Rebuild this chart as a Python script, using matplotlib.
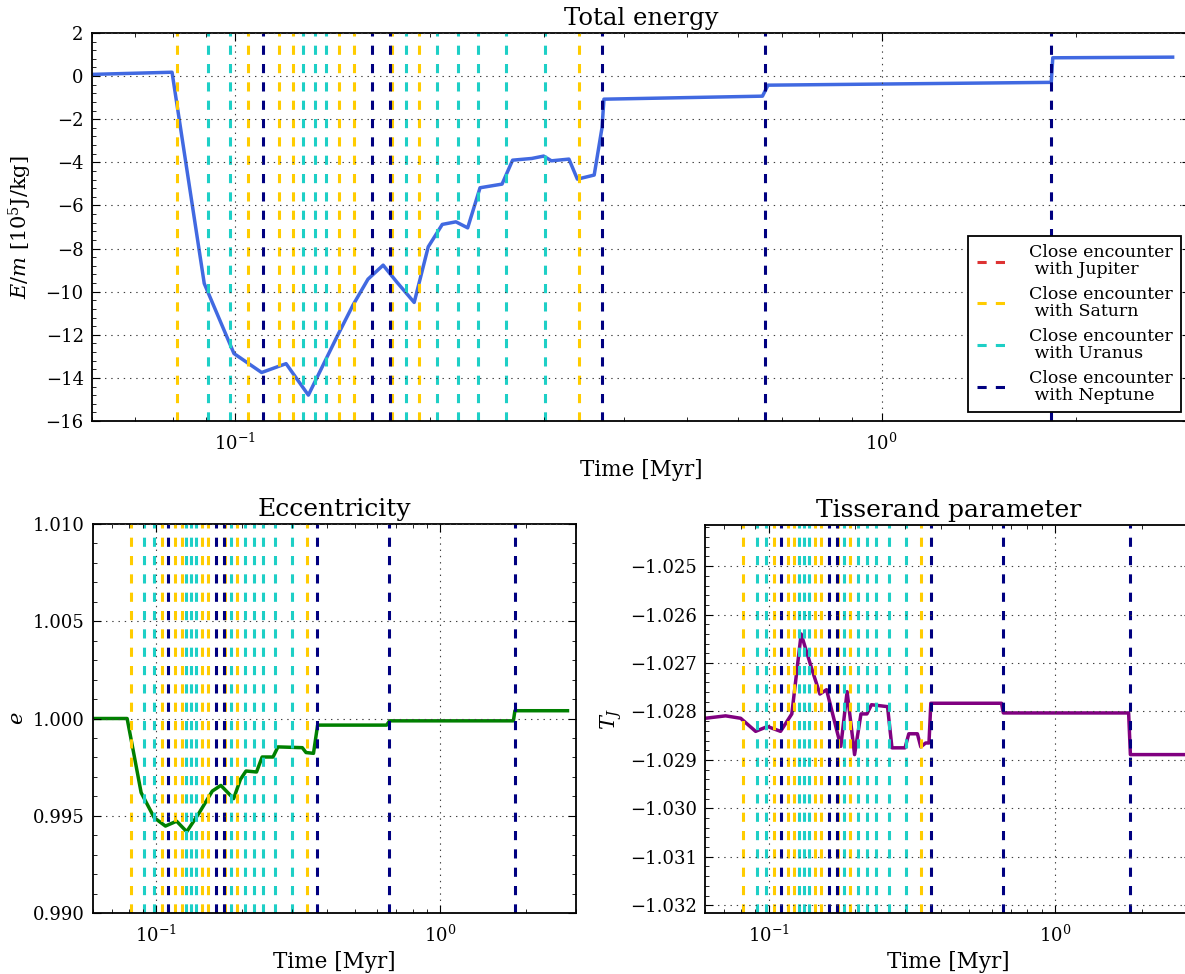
import matplotlib
matplotlib.use('Agg')
import matplotlib.pyplot as plt
from matplotlib.lines import Line2D
from matplotlib.ticker import MultipleLocator, AutoMinorLocator, LogLocator

# ---------------- data ----------------
energy_time = [0.0600, 0.0798, 0.0895, 0.0995, 0.1098, 0.1198, 0.1297, 0.1440, 0.1520,
               0.1604, 0.1693, 0.1777, 0.1891, 0.1988, 0.2090, 0.2194, 0.2288, 0.2391,
               0.2586, 0.2685, 0.2875, 0.2999, 0.3083, 0.3282, 0.3382, 0.3591, 0.3692,
               0.3718, 0.6540, 0.6670, 1.8300, 1.8400, 2.8200]
energy = [0.08, 0.18, -9.62, -12.87, -13.75, -13.34, -14.80, -12.02, -10.63,
          -9.42, -8.77, -9.55, -10.50, -7.92, -6.88, -6.76, -7.04, -5.18,
          -5.01, -3.90, -3.82, -3.71, -3.93, -3.85, -4.78, -4.59, -2.40,
          -1.07, -0.93, -0.42, -0.29, 0.85, 0.88]

ecc_time = [0.0600, 0.0791, 0.0821, 0.0886, 0.0985, 0.1079, 0.1181, 0.1282, 0.1418,
            0.1577, 0.1690, 0.1874, 0.1980, 0.2072, 0.2256, 0.2361, 0.2579, 0.2683,
            0.3268, 0.3369, 0.3579, 0.3700, 0.6470, 0.6630, 1.8070, 1.8290, 2.8000]
ecc = [1.00000, 1.00000, 0.99876, 0.99619, 0.99490, 0.99447, 0.99472, 0.99418, 0.99515,
       0.99627, 0.99656, 0.99588, 0.99687, 0.99730, 0.99725, 0.99802, 0.99802, 0.99854,
       0.99850, 0.99825, 0.99821, 0.99966, 0.99966, 0.99988, 0.99988, 1.00040, 1.00040]

tiss_time = [0.0601, 0.0708, 0.0799, 0.0901, 0.0991, 0.1101, 0.1205, 0.1299, 0.1413,
             0.1510, 0.1593, 0.1786, 0.1879, 0.1995, 0.2100, 0.2203, 0.2285, 0.2600,
             0.2694, 0.2993, 0.3084, 0.3304, 0.3396, 0.3531, 0.3627, 0.3681, 0.6495,
             0.6590, 1.8030, 1.8290, 2.8000]
tiss = [-1.02814, -1.02809, -1.02814, -1.02841, -1.02831, -1.02841, -1.02805, -1.02640,
        -1.02711, -1.02764, -1.02755, -1.02872, -1.02759, -1.02889, -1.02805, -1.02805,
        -1.02786, -1.02790, -1.02875, -1.02875, -1.02846, -1.02846, -1.02873, -1.02865,
        -1.02865, -1.02783, -1.02783, -1.02803, -1.02803, -1.02889, -1.02889]

jupiter_enc = []
saturn_enc = [0.0813, 0.1045, 0.1167, 0.1230, 0.1447, 0.1528, 0.1745, 0.1927, 0.3398]
uranus_enc = [0.0908, 0.0980, 0.1273, 0.1326, 0.1383, 0.1835, 0.2050, 0.2213, 0.2376,
              0.2625, 0.3017]
neptune_enc = [0.1105, 0.1628, 0.1736, 0.3692, 0.6590, 1.8300]

planets = ['Jupiter', 'Saturn', 'Uranus', 'Neptune']
planet_colors = ['#dd3333', '#ffcc00', '#1ecfc6', '#000080']
encounters = [jupiter_enc, saturn_enc, uranus_enc, neptune_enc]

# ---------------- style ----------------
plt.rcParams.update({
    'font.family': 'DejaVu Serif',
    'mathtext.fontset': 'dejavuserif',
    'axes.unicode_minus': True,
    'lines.scale_dashes': False,
    'xtick.direction': 'in', 'ytick.direction': 'in',
    'xtick.top': True, 'ytick.right': True,
    'xtick.major.size': 6, 'ytick.major.size': 6,
    'xtick.minor.size': 3, 'ytick.minor.size': 3,
    'xtick.major.pad': 8, 'ytick.major.pad': 6,
    'axes.linewidth': 1.3,
    'axes.axisbelow': False,
})

DASH = (6.6, 6.6)

fig = plt.figure(figsize=(11.85, 9.74), dpi=100)
W, H = 1185.0, 974.0
def box(x0, x1, ytop, ybot):
    return [x0 / W, 1 - ybot / H, (x1 - x0) / W, (ybot - ytop) / H]

ax_e = fig.add_axes(box(92, 1190, 33, 421))
ax_ecc = fig.add_axes(box(93, 576, 524, 913))
ax_t = fig.add_axes(box(705, 1192, 525, 913))

def style(ax):
    ax.set_xscale('log')
    ax.set_xlim(0.06, 3.0)
    ax.xaxis.set_major_locator(LogLocator(base=10))
    ax.yaxis.set_minor_locator(AutoMinorLocator(5))
    ax.grid(True, which='major', color='0.25', linestyle=(0, (1.0, 3.5)), linewidth=0.8)
    ax.tick_params(labelsize=13)
    ax.set_xlabel('Time [Myr]', fontsize=15.5)

def vlines(ax):
    for times, col in zip(encounters, planet_colors):
        for t in times:
            ax.axvline(t, color=col, linestyle='--', dashes=DASH, linewidth=2.2)

# Total energy
ax_e.plot(energy_time, energy, color='royalblue', linewidth=2.5)
vlines(ax_e)
style(ax_e)
ax_e.set_ylim(-16, 2)
ax_e.yaxis.set_major_locator(MultipleLocator(2))
ax_e.set_title('Total energy', fontsize=17.5)
ax_e.set_ylabel(r'$E/m$ [$10^5$J/kg]', fontsize=15, labelpad=8)
handles = [Line2D([], [], color=c, linestyle='--', dashes=DASH, linewidth=2.2)
           for c in planet_colors]
labels = ['Close encounter\n with ' + p for p in planets]
leg = ax_e.legend(handles, labels, loc='lower right', fontsize=12.5, fancybox=False,
                  framealpha=1, edgecolor='k', borderaxespad=0.5, handlelength=1.8,
                  labelspacing=0.45, borderpad=0.5, handletextpad=1.2)
leg.get_frame().set_linewidth(1.3)
for txt in leg.get_texts():
    txt.set_linespacing(1.0)

# Eccentricity
ax_ecc.plot(ecc_time, ecc, color='green', linewidth=2.5)
vlines(ax_ecc)
style(ax_ecc)
ax_ecc.set_ylim(0.990, 1.010)
ax_ecc.yaxis.set_major_locator(MultipleLocator(0.005))
ax_ecc.ticklabel_format(axis='y', useOffset=False)
ax_ecc.set_title('Eccentricity', fontsize=18)
ax_ecc.set_ylabel(r'$e$', fontsize=15)

# Tisserand
ax_t.plot(tiss_time, tiss, color='purple', linewidth=2.5)
vlines(ax_t)
style(ax_t)
ax_t.set_ylim(-1.03216, -1.02415)
ax_t.yaxis.set_major_locator(MultipleLocator(0.001))
ax_t.ticklabel_format(axis='y', useOffset=False)
ax_t.set_title('Tisserand parameter', fontsize=18)
ax_t.set_ylabel(r'$T_J$', fontsize=15)

fig.savefig('out.png', dpi=100)
